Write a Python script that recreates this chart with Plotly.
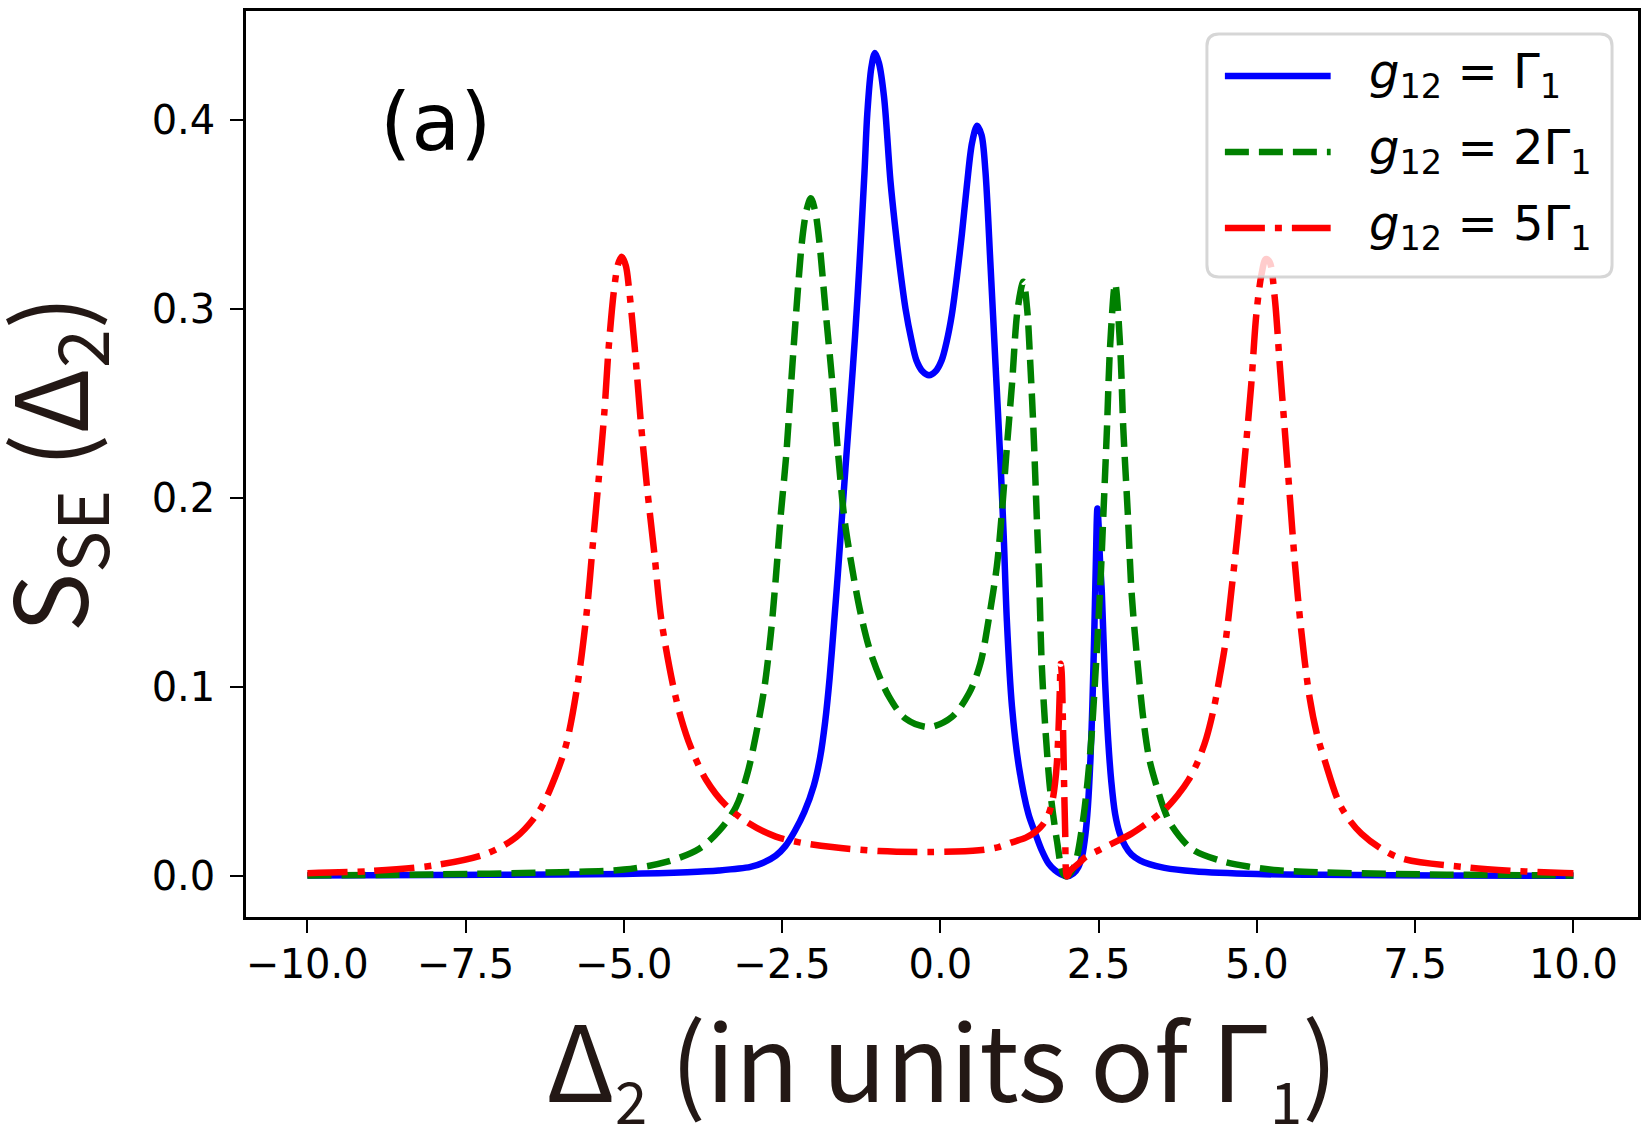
import plotly.graph_objects as go

# ---- data ----
x_blue = [-10, -8, -6, -5, -4, -3.5, -3.0, -2.8, -2.6, -2.45, -2.3, -2.15, -2.0, -1.9, -1.82, -1.75,
          -1.68, -1.62, -1.56, -1.5, -1.42, -1.35, -1.28, -1.2, -1.155, -1.09, -1.034, -0.97, -0.89,
          -0.79, -0.72, -0.64, -0.55, -0.46, -0.38, -0.28, -0.18, -0.08, 0.02, 0.1, 0.18, 0.26, 0.34,
          0.42, 0.5, 0.58, 0.65, 0.71, 0.79, 0.87, 0.95, 1.0, 1.05, 1.13, 1.24, 1.39, 1.5, 1.6, 1.71,
          1.81, 1.9, 2.0, 2.1, 2.18, 2.24, 2.29, 2.33, 2.37, 2.4, 2.43, 2.455, 2.48, 2.5, 2.52, 2.55,
          2.6, 2.65, 2.7, 2.76, 2.83, 2.92, 3.02, 3.15, 3.3, 3.54, 4.0, 5.0, 6.0, 8.0, 10.0]
y_blue = [0.0005, 0.0007, 0.001, 0.0013, 0.0022, 0.0031, 0.0050, 0.0072, 0.011, 0.016, 0.024, 0.034,
          0.048, 0.063, 0.082, 0.105, 0.134, 0.160, 0.188, 0.216, 0.252, 0.285, 0.323, 0.372, 0.4035,
          0.428, 0.4355, 0.430, 0.412, 0.368, 0.345, 0.322, 0.300, 0.284, 0.273, 0.267, 0.265, 0.267,
          0.273, 0.283, 0.297, 0.317, 0.340, 0.366, 0.388, 0.397, 0.392, 0.3735, 0.324, 0.271, 0.218,
          0.180, 0.135, 0.090, 0.058, 0.033, 0.0226, 0.0138, 0.0067, 0.0032, 0.0012, 0.0, 0.0015,
          0.005, 0.011, 0.022, 0.037, 0.062, 0.090, 0.128, 0.165, 0.1945, 0.185, 0.168, 0.150, 0.104,
          0.072, 0.050, 0.033, 0.023, 0.016, 0.0115, 0.0085, 0.0065, 0.0045, 0.0027, 0.0012, 0.0008,
          0.0004, 0.0003]

x_green = [-10, -8, -6, -5, -4.33, -3.81, -3.49, -3.23, -3.05, -2.91, -2.78, -2.68, -2.6, -2.52, -2.44,
           -2.36, -2.28, -2.18, -2.11, -2.047, -1.98, -1.92, -1.81, -1.71, -1.62, -1.52, -1.42, -1.26,
           -1.08, -0.81, -0.55, -0.18, 0.18, 0.45, 0.63, 0.76, 0.89, 0.97, 1.05, 1.13, 1.22, 1.31, 1.37,
           1.42, 1.47, 1.52, 1.56, 1.6, 1.66, 1.74, 1.84, 1.94, 2.0, 2.06, 2.13, 2.26, 2.37, 2.44, 2.52,
           2.575, 2.63, 2.68, 2.76, 2.84, 2.89, 2.96, 3.02, 3.1, 3.21, 3.3, 3.44, 3.55, 3.65, 3.97, 4.4,
           4.86, 5.33, 6.0, 8.0, 10.0]
y_green = [0.0005, 0.001, 0.0022, 0.0036, 0.0076, 0.0146, 0.0243, 0.0367, 0.0543, 0.0755, 0.100,
           0.128, 0.158, 0.192, 0.221, 0.260, 0.2977, 0.338, 0.353, 0.3586, 0.352, 0.338, 0.2977,
           0.262, 0.225, 0.190, 0.168, 0.139, 0.116, 0.0949, 0.0834, 0.079, 0.0843, 0.0967, 0.1125,
           0.1354, 0.1637, 0.192, 0.227, 0.260, 0.300, 0.3145, 0.300, 0.271, 0.236, 0.192, 0.157,
           0.1125, 0.077, 0.0437, 0.019, 0.0014, 0.0, 0.002, 0.0067, 0.0314, 0.0667, 0.102, 0.150,
           0.192, 0.236, 0.280, 0.3136, 0.280, 0.236, 0.192, 0.150, 0.118, 0.082, 0.062, 0.045, 0.034,
           0.027, 0.0145, 0.0085, 0.0052, 0.0032, 0.0021, 0.0009, 0.0005]

x_red = [-10, -9, -8, -7.17, -6.7, -6.33, -6.07, -5.91, -5.73, -5.59, -5.49, -5.4, -5.31, -5.24, -5.15,
         -5.09, -5.035, -4.97, -4.92, -4.83, -4.74, -4.64, -4.52, -4.41, -4.23, -4.1, -3.94, -3.7, -3.39,
         -3.02, -2.6, -2.23, -1.71, -0.97, -0.18, 0.61, 0.92, 1.13, 1.35, 1.5, 1.62, 1.71, 1.77, 1.81,
         1.84, 1.865, 1.885, 1.9, 1.915, 1.93, 1.95, 1.97, 2.0, 2.05, 2.18, 2.29, 2.5, 2.71, 3.02, 3.3,
         3.55, 3.75, 3.92, 4.07, 4.2, 4.32, 4.42, 4.5, 4.6, 4.7, 4.81, 4.91, 4.99, 5.07, 5.14, 5.2,
         5.28, 5.36, 5.44, 5.52, 5.6, 5.7, 5.83, 5.95, 6.07, 6.33, 6.65, 7.22, 8.28, 9.0, 9.85, 10.0]
y_red = [0.0017, 0.0028, 0.0058, 0.012, 0.0208, 0.035, 0.054, 0.070, 0.102, 0.139, 0.176, 0.2095,
         0.245, 0.280, 0.312, 0.324, 0.3277, 0.323, 0.311, 0.280, 0.243, 0.2075, 0.171, 0.136, 0.102,
         0.084, 0.068, 0.051, 0.0376, 0.0279, 0.021, 0.018, 0.0155, 0.0134, 0.0129, 0.0138, 0.0155,
         0.018, 0.0205, 0.0235, 0.0275, 0.033, 0.040, 0.049, 0.060, 0.077, 0.097, 0.1125, 0.108,
         0.090, 0.055, 0.025, 0.0, 0.003, 0.0067, 0.0102, 0.0138, 0.0173, 0.0226, 0.029, 0.0355,
         0.043, 0.051, 0.061, 0.073, 0.089, 0.107, 0.123, 0.152, 0.183, 0.222, 0.260, 0.297, 0.318,
         0.3265, 0.325, 0.3065, 0.271, 0.236, 0.2007, 0.1655, 0.130, 0.095, 0.075, 0.0614, 0.0367,
         0.0226, 0.0102, 0.0049, 0.003, 0.0018, 0.0017]

series_names = ["g12 = Γ1", "g12 = 2Γ1", "g12 = 5Γ1"]
legend_labels = ["<i>g</i><sub>12</sub> = Γ<sub>1</sub>",
                 "<i>g</i><sub>12</sub> = 2Γ<sub>1</sub>",
                 "<i>g</i><sub>12</sub> = 5Γ<sub>1</sub>"]
x_tickvals = [-10, -7.5, -5, -2.5, 0, 2.5, 5, 7.5, 10]
x_ticktext = ["−10.0", "−7.5", "−5.0", "−2.5", "0.0", "2.5", "5.0", "7.5", "10.0"]
y_tickvals = [0.0, 0.1, 0.2, 0.3, 0.4]
y_ticktext = ["0.0", "0.1", "0.2", "0.3", "0.4"]

# ---- styles ----
LW = 6.5
colors = ["#0000ff", "#008000", "#ff0000"]
dashes = ["solid", "24px,10px", "40px,10px,7px,10px"]

fig = go.Figure()
for xs, ys, nm, c, d in zip([x_blue, x_green, x_red], [y_blue, y_green, y_red],
                            series_names, colors, dashes):
    fig.add_trace(go.Scatter(x=xs, y=ys, mode="lines", name=nm, showlegend=False,
                             line=dict(color=c, width=LW, dash=d, shape="spline", smoothing=0.9)))

W, H = 1646, 1130
ml, mr, mt, mb = 246, 5, 11, 213
pw, ph = W - ml - mr, H - mt - mb

def px_x(fx):
    return (fx - ml) / pw

def px_y(fy):
    return (H - mb - fy) / ph

tickfont = dict(family="DejaVu Sans", size=40, color="black")
fig.update_layout(
    width=W, height=H, margin=dict(l=ml, r=mr, t=mt, b=mb),
    paper_bgcolor="white", plot_bgcolor="white",
    xaxis=dict(range=[-10.97, 11.02], tickvals=x_tickvals, ticktext=x_ticktext,
               showgrid=False, zeroline=False, showline=True, mirror=True, linecolor="black",
               linewidth=2.5, ticks="outside", ticklen=13, tickwidth=2, tickcolor="black",
               tickfont=tickfont, ticklabelstandoff=-3),
    yaxis=dict(range=[-0.0215, 0.4577], tickvals=y_tickvals, ticktext=y_ticktext,
               showgrid=False, zeroline=False, showline=True, mirror=True, linecolor="black",
               linewidth=2.5, ticks="outside", ticklen=13, tickwidth=2, tickcolor="black",
               tickfont=tickfont, ticklabelstandoff=7),
)

sub_x = "<span style='font-size:58px'>{}</span>"
annotations = [
    dict(text="Δ<sub>" + sub_x.format("2") + "</sub> (in units of Γ<sub>" + sub_x.format("1") + "</sub>)",
         xref="paper", yref="paper", x=0.5, y=px_y(1060), xanchor="center", yanchor="middle",
         showarrow=False, font=dict(family="Noto Sans CJK JP", size=105, color="#231815")),
    dict(text="S<sub>SE</sub> (Δ<sub>2</sub>)", xref="paper", yref="paper",
         x=px_x(50), y=0.5, xanchor="center", yanchor="middle", textangle=-90, showarrow=False,
         font=dict(family="Noto Sans CJK JP", size=100, color="#231815")),
    dict(text="(a)", xref="paper", yref="paper", x=px_x(436), y=px_y(123),
         xanchor="center", yanchor="middle", showarrow=False,
         font=dict(family="DejaVu Sans", size=80, color="black")),
]

# legend (matplotlib style box)
bx0, bx1, by0, by1 = px_x(1209), px_x(1615), px_y(277), px_y(34)
rx, ry = 12 / pw, 12 / ph
path = (f"M{bx0+rx},{by1} L{bx1-rx},{by1} Q{bx1},{by1} {bx1},{by1-ry} "
        f"L{bx1},{by0+ry} Q{bx1},{by0} {bx1-rx},{by0} L{bx0+rx},{by0} "
        f"Q{bx0},{by0} {bx0},{by0+ry} L{bx0},{by1-ry} Q{bx0},{by1} {bx0+rx},{by1} Z")
shapes = [dict(type="path", path=path, xref="paper", yref="paper",
               fillcolor="rgba(255,255,255,0.8)", line=dict(color="rgba(204,204,204,0.8)", width=3),
               layer="above")]
row_y = [76, 152, 228]
for ry_px, c, d, lab in zip(row_y, colors, dashes, legend_labels):
    shapes.append(dict(type="line", xref="paper", yref="paper", x0=px_x(1227), x1=px_x(1333),
                       y0=px_y(ry_px), y1=px_y(ry_px), line=dict(color=c, width=LW, dash=d),
                       layer="above"))
    annotations.append(dict(text=lab, xref="paper", yref="paper", x=px_x(1369), y=px_y(ry_px - 2),
                            xanchor="left", yanchor="middle", showarrow=False,
                            font=dict(family="DejaVu Sans", size=48, color="black")))

fig.update_layout(shapes=shapes, annotations=annotations)
fig.write_html("out.html")
